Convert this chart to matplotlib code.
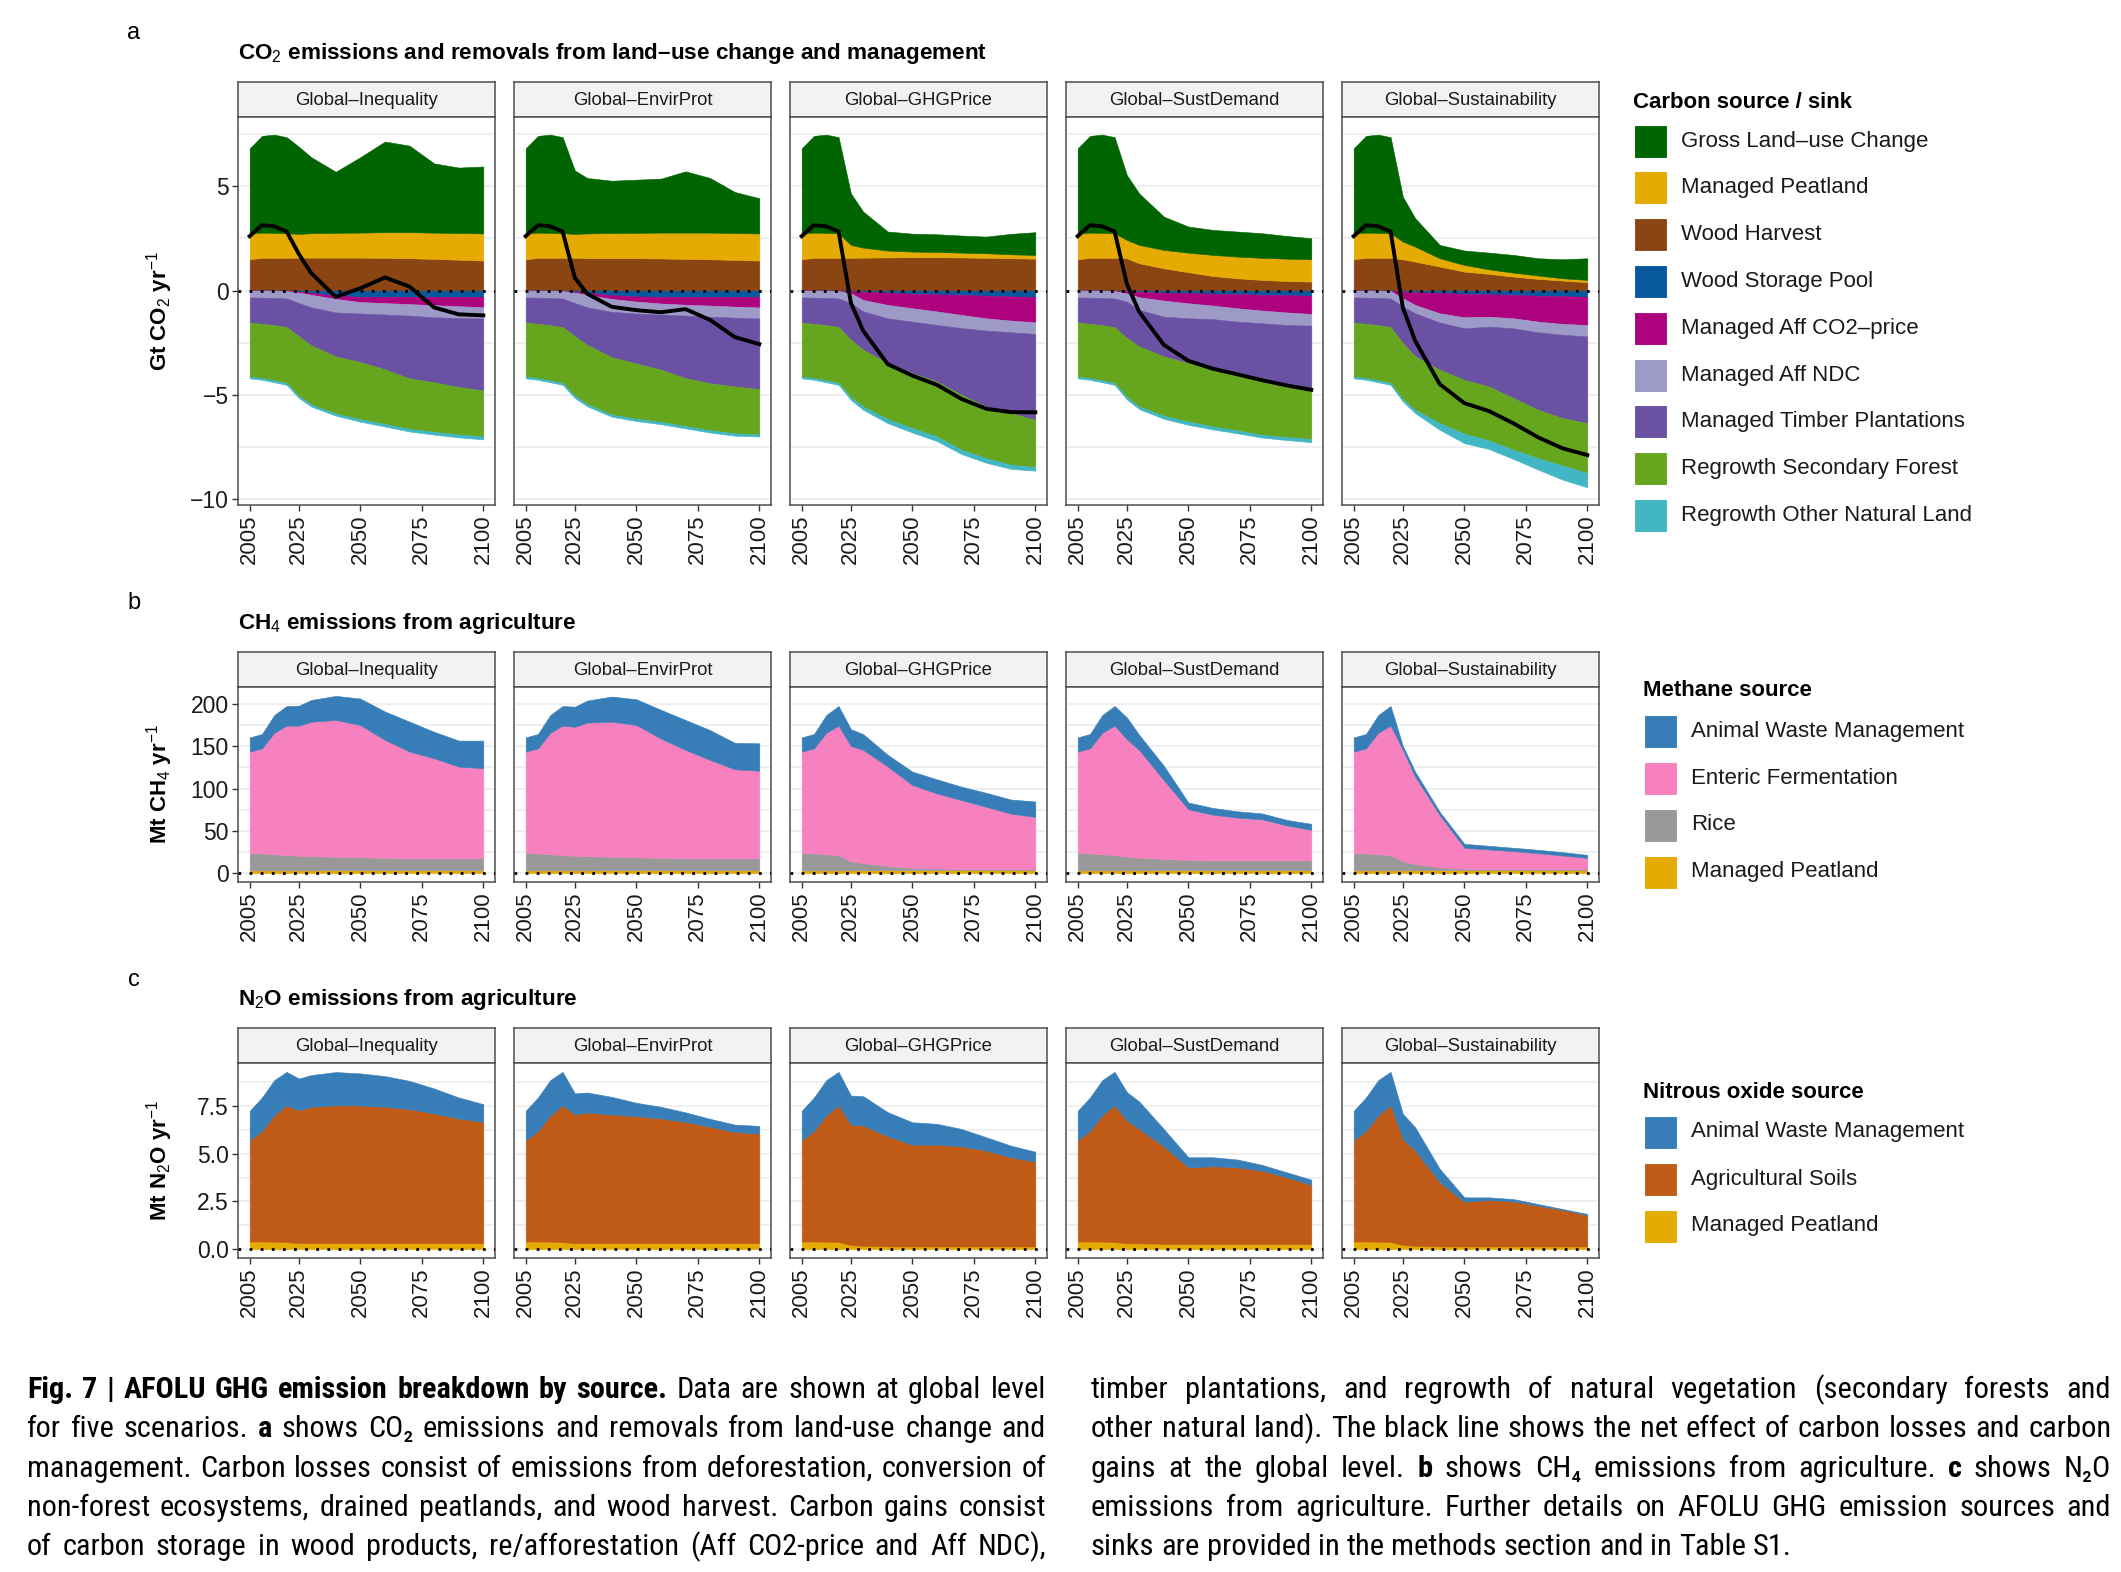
# AFOLU GHG emission breakdown by source (five global scenarios)
import numpy as np
import matplotlib
matplotlib.use("Agg")
import matplotlib.pyplot as plt
from matplotlib.patches import Rectangle
from matplotlib import font_manager

years = [2005, 2010, 2015, 2020, 2025, 2030, 2040, 2050, 2060, 2070, 2080, 2090, 2100]
scenarios = ["Global–Inequality", "Global–EnvirProt", "Global–GHGPrice",
             "Global–SustDemand", "Global–Sustainability"]
x_ticks = [2005, 2025, 2050, 2075, 2100]

# ---- a: CO2 (Gt CO2/yr), order of values follows scenarios ----
gross_luc = [
    [4.07, 4.64, 4.71, 4.61, 4.18, 3.65, 2.93, 3.62, 4.35, 4.15, 3.32, 3.14, 3.21],
    [4.07, 4.64, 4.71, 4.61, 3.04, 2.66, 2.51, 2.55, 2.59, 2.94, 2.62, 1.97, 1.69],
    [4.07, 4.64, 4.71, 4.61, 2.47, 1.73, 0.91, 0.86, 0.85, 0.82, 0.80, 0.98, 1.09],
    [4.07, 4.64, 4.71, 4.61, 3.11, 2.47, 1.60, 1.25, 1.20, 1.20, 1.18, 1.09, 1.01],
    [4.07, 4.64, 4.71, 4.61, 2.15, 1.36, 0.64, 0.69, 0.80, 0.85, 0.83, 0.91, 1.04],
]
peat_co2 = [
    [1.25, 1.21, 1.20, 1.18, 1.14, 1.17, 1.19, 1.20, 1.23, 1.25, 1.26, 1.28, 1.30],
    [1.25, 1.21, 1.20, 1.18, 1.15, 1.18, 1.20, 1.22, 1.24, 1.26, 1.28, 1.29, 1.30],
    [1.25, 1.21, 1.20, 1.18, 0.62, 0.48, 0.33, 0.27, 0.25, 0.23, 0.22, 0.19, 0.18],
    [1.25, 1.21, 1.20, 1.18, 0.88, 0.88, 0.88, 0.94, 1.01, 1.04, 1.06, 1.07, 1.07],
    [1.25, 1.21, 1.20, 1.18, 0.85, 0.72, 0.40, 0.32, 0.22, 0.19, 0.16, 0.11, 0.11],
]
wood_harvest = [
    [1.50, 1.57, 1.57, 1.57, 1.58, 1.58, 1.58, 1.58, 1.57, 1.55, 1.52, 1.48, 1.44],
    [1.50, 1.57, 1.57, 1.57, 1.57, 1.56, 1.56, 1.55, 1.54, 1.52, 1.50, 1.47, 1.44],
    [1.50, 1.57, 1.57, 1.57, 1.57, 1.58, 1.59, 1.60, 1.60, 1.59, 1.57, 1.55, 1.53],
    [1.50, 1.57, 1.57, 1.57, 1.55, 1.31, 1.07, 0.88, 0.70, 0.59, 0.51, 0.46, 0.43],
    [1.50, 1.57, 1.57, 1.57, 1.50, 1.39, 1.15, 0.91, 0.80, 0.67, 0.56, 0.48, 0.40],
]
wood_storage = [
    [0, 0, 0, -0.02, -0.05, -0.10, -0.25, -0.30, -0.30, -0.30, -0.30, -0.30, -0.30],
    [0, 0, 0, -0.02, -0.05, -0.10, -0.22, -0.28, -0.30, -0.30, -0.30, -0.30, -0.30],
    [0, 0, 0, -0.02, -0.03, -0.05, -0.10, -0.15, -0.18, -0.20, -0.25, -0.28, -0.30],
    [0, 0, 0, -0.02, -0.03, -0.05, -0.10, -0.12, -0.15, -0.17, -0.20, -0.22, -0.25],
    [0, 0, 0, -0.02, -0.05, -0.08, -0.12, -0.15, -0.18, -0.20, -0.25, -0.27, -0.30],
]
aff_co2price = [
    [0, 0, 0, 0, -0.05, -0.10, -0.15, -0.25, -0.30, -0.35, -0.40, -0.45, -0.50],
    [0, 0, 0, 0, -0.05, -0.10, -0.18, -0.25, -0.32, -0.38, -0.42, -0.47, -0.51],
    [0, 0, 0, 0, -0.10, -0.40, -0.59, -0.70, -0.82, -0.97, -1.08, -1.16, -1.22],
    [0, 0, 0, 0, -0.10, -0.27, -0.38, -0.49, -0.57, -0.68, -0.76, -0.83, -0.87],
    [0, 0, 0, 0, -0.32, -0.61, -0.97, -1.13, -1.07, -1.13, -1.24, -1.33, -1.35],
]
aff_ndc = [
    [-0.33, -0.34, -0.35, -0.36, -0.50, -0.60, -0.65, -0.55, -0.55, -0.55, -0.58, -0.57, -0.54],
    [-0.33, -0.34, -0.35, -0.36, -0.50, -0.60, -0.62, -0.57, -0.53, -0.52, -0.53, -0.53, -0.53],
    [-0.33, -0.34, -0.35, -0.36, -0.47, -0.55, -0.64, -0.64, -0.65, -0.63, -0.59, -0.56, -0.56],
    [-0.33, -0.34, -0.35, -0.36, -0.40, -0.61, -0.77, -0.72, -0.65, -0.64, -0.61, -0.60, -0.56],
    [-0.33, -0.34, -0.35, -0.36, -0.40, -0.40, -0.44, -0.53, -0.48, -0.48, -0.51, -0.52, -0.55],
]
timber = [
    [-1.20, -1.26, -1.31, -1.37, -1.59, -1.83, -2.11, -2.33, -2.63, -3.02, -3.12, -3.31, -3.45],
    [-1.20, -1.26, -1.31, -1.37, -1.60, -1.80, -2.18, -2.40, -2.65, -3.00, -3.20, -3.30, -3.38],
    [-1.20, -1.26, -1.31, -1.37, -1.76, -1.84, -2.15, -2.47, -2.71, -3.20, -3.64, -3.88, -4.12],
    [-1.20, -1.26, -1.31, -1.37, -1.75, -1.75, -1.91, -2.15, -2.35, -2.47, -2.63, -2.87, -3.16],
    [-1.20, -1.26, -1.31, -1.37, -1.75, -2.07, -2.27, -2.47, -2.87, -3.35, -3.72, -4.00, -4.16],
]
regrowth_sec = [
    [-2.60, -2.60, -2.65, -2.68, -2.86, -2.83, -2.74, -2.74, -2.62, -2.42, -2.38, -2.27, -2.21],
    [-2.60, -2.60, -2.65, -2.68, -2.85, -2.85, -2.75, -2.65, -2.50, -2.30, -2.25, -2.25, -2.18],
    [-2.60, -2.60, -2.65, -2.68, -2.75, -2.72, -2.69, -2.64, -2.64, -2.64, -2.48, -2.47, -2.27],
    [-2.60, -2.60, -2.65, -2.68, -2.83, -2.88, -2.85, -2.80, -2.80, -2.75, -2.72, -2.51, -2.28],
    [-2.60, -2.60, -2.65, -2.68, -2.69, -2.56, -2.56, -2.59, -2.59, -2.48, -2.32, -2.28, -2.39],
]
regrowth_other = [
    [-0.08, -0.08, -0.09, -0.09, -0.10, -0.10, -0.10, -0.12, -0.12, -0.12, -0.13, -0.14, -0.14],
    [-0.08, -0.08, -0.09, -0.09, -0.10, -0.10, -0.10, -0.11, -0.11, -0.11, -0.11, -0.11, -0.10],
    [-0.08, -0.08, -0.09, -0.09, -0.13, -0.16, -0.19, -0.21, -0.22, -0.20, -0.22, -0.20, -0.17],
    [-0.08, -0.08, -0.09, -0.09, -0.11, -0.12, -0.14, -0.16, -0.14, -0.14, -0.13, -0.14, -0.15],
    [-0.08, -0.08, -0.09, -0.09, -0.11, -0.16, -0.32, -0.45, -0.41, -0.44, -0.55, -0.67, -0.69],
]

# ---- b: CH4 (Mt CH4/yr) ----
ch4_awm = [
    [16.9, 17.0, 21.0, 23.2, 23.6, 25.7, 28.5, 31.3, 33.6, 35.4, 31.3, 30.8, 32.7],
    [16.9, 17.0, 21.0, 23.2, 23.8, 26.0, 29.7, 30.5, 34.0, 35.4, 35.3, 31.3, 32.4],
    [16.9, 17.0, 21.0, 23.2, 19.8, 18.7, 13.9, 15.8, 16.7, 15.9, 16.6, 16.7, 18.2],
    [16.9, 17.0, 21.0, 23.2, 25.8, 18.0, 17.0, 8.0, 8.0, 7.5, 7.0, 6.5, 7.0],
    [16.9, 17.0, 21.0, 23.2, 4.8, 5.9, 3.9, 4.7, 4.3, 4.0, 4.0, 4.0, 3.5],
]
ch4_enteric = [
    [119.6, 124.2, 143.7, 153.1, 153.8, 159.0, 161.7, 156.5, 139.4, 126.2, 118.3, 108.4, 106.5],
    [119.6, 124.2, 143.7, 153.1, 152.4, 158.0, 159.7, 156.5, 141.0, 128.2, 116.3, 105.3, 103.6],
    [119.6, 124.2, 143.7, 153.1, 136.5, 133.7, 117.5, 98.0, 88.8, 81.3, 73.6, 65.8, 61.9],
    [119.6, 124.2, 143.7, 153.1, 138.9, 127.3, 93.2, 59.9, 54.0, 50.5, 48.5, 41.3, 36.2],
    [119.6, 124.2, 143.7, 153.1, 131.7, 103.2, 61.6, 25.0, 23.4, 21.4, 19.0, 16.2, 13.5],
]
ch4_rice = [
    [20.8, 20.1, 19.1, 18.1, 17.4, 16.8, 16.1, 15.3, 14.8, 14.2, 14.2, 14.2, 14.2],
    [20.8, 20.1, 19.1, 18.1, 17.4, 16.8, 16.1, 15.3, 14.8, 14.2, 14.2, 14.2, 14.2],
    [20.8, 20.1, 19.1, 18.1, 10.7, 8.7, 5.1, 2.8, 2.0, 1.6, 1.4, 1.2, 1.2],
    [20.8, 20.1, 19.1, 18.1, 16.2, 15.1, 13.5, 12.3, 11.8, 11.8, 11.8, 11.8, 11.8],
    [20.8, 20.1, 19.1, 18.1, 10.7, 7.5, 3.5, 1.6, 1.2, 1.2, 1.2, 1.2, 1.2],
]
ch4_peat = [
    [3.2, 3.2, 3.2, 3.2, 3.2, 3.2, 3.3, 3.3, 3.3, 3.3, 3.3, 3.3, 3.3],
    [3.2, 3.2, 3.2, 3.2, 3.2, 3.2, 3.3, 3.3, 3.3, 3.3, 3.3, 3.3, 3.3],
    [3.2, 3.2, 3.2, 3.2, 3.2, 3.3, 3.4, 3.4, 3.4, 3.4, 3.4, 3.4, 3.4],
    [3.2, 3.2, 3.2, 3.2, 3.2, 3.2, 3.3, 3.3, 3.3, 3.3, 3.3, 3.3, 3.3],
    [3.2, 3.2, 3.2, 3.2, 3.2, 3.3, 3.4, 3.4, 3.4, 3.4, 3.4, 3.4, 3.4],
]

# ---- c: N2O (Mt N2O/yr) ----
n2o_awm = [
    [1.54, 1.75, 1.84, 1.75, 1.66, 1.66, 1.74, 1.68, 1.61, 1.48, 1.31, 1.10, 0.93],
    [1.54, 1.75, 1.84, 1.75, 1.09, 1.05, 0.92, 0.70, 0.61, 0.50, 0.42, 0.38, 0.40],
    [1.54, 1.75, 1.84, 1.75, 1.52, 1.54, 1.26, 1.17, 1.09, 0.91, 0.70, 0.61, 0.52],
    [1.54, 1.75, 1.84, 1.75, 1.49, 1.44, 0.91, 0.53, 0.47, 0.41, 0.30, 0.26, 0.27],
    [1.54, 1.75, 1.84, 1.75, 1.31, 1.22, 0.70, 0.23, 0.14, 0.12, 0.09, 0.04, 0.06],
]
n2o_soils = [
    [5.30, 5.79, 6.62, 7.16, 6.96, 7.14, 7.22, 7.21, 7.14, 7.02, 6.79, 6.53, 6.35],
    [5.30, 5.79, 6.62, 7.16, 6.75, 6.84, 6.74, 6.65, 6.53, 6.35, 6.09, 5.83, 5.74],
    [5.30, 5.79, 6.62, 7.16, 6.31, 6.30, 5.77, 5.33, 5.33, 5.24, 5.02, 4.67, 4.44],
    [5.30, 5.79, 6.62, 7.16, 6.42, 5.99, 5.10, 4.02, 4.08, 4.02, 3.85, 3.50, 3.11],
    [5.30, 5.79, 6.62, 7.16, 5.56, 4.99, 3.36, 2.34, 2.43, 2.36, 2.13, 1.92, 1.64],
]
n2o_peat = [
    [0.40, 0.40, 0.39, 0.37, 0.31, 0.31, 0.31, 0.31, 0.31, 0.31, 0.31, 0.31, 0.31],
    [0.40, 0.40, 0.39, 0.37, 0.31, 0.31, 0.31, 0.31, 0.31, 0.31, 0.31, 0.31, 0.31],
    [0.40, 0.40, 0.39, 0.37, 0.21, 0.17, 0.14, 0.14, 0.14, 0.14, 0.14, 0.14, 0.14],
    [0.40, 0.40, 0.39, 0.37, 0.31, 0.30, 0.28, 0.26, 0.26, 0.26, 0.26, 0.26, 0.26],
    [0.40, 0.40, 0.39, 0.37, 0.21, 0.17, 0.14, 0.14, 0.14, 0.14, 0.14, 0.14, 0.14],
]

co2_labels = ["Gross Land–use Change", "Managed Peatland", "Wood Harvest", "Wood Storage Pool",
              "Managed Aff CO2–price", "Managed Aff NDC", "Managed Timber Plantations",
              "Regrowth Secondary Forest", "Regrowth Other Natural Land"]
co2_colors = ["#006400", "#E6AB02", "#8B4513", "#08589E", "#AE017E",
              "#9E9AC8", "#6A51A3", "#66A61E", "#41B6C4"]
ch4_labels = ["Animal Waste Management", "Enteric Fermentation", "Rice", "Managed Peatland"]
ch4_colors = ["#377EB8", "#F781BF", "#999999", "#E6AB02"]
n2o_labels = ["Animal Waste Management", "Agricultural Soils", "Managed Peatland"]
n2o_colors = ["#377EB8", "#BF5B17", "#E6AB02"]

# ---------------------------------------------------------------
W, H = 2121, 1572
plt.rcParams["font.family"] = ["Liberation Sans", "DejaVu Sans"]
plt.rcParams["mathtext.fontset"] = "custom"
plt.rcParams["mathtext.rm"] = "Liberation Sans"
plt.rcParams["mathtext.it"] = "Liberation Sans:italic"
plt.rcParams["mathtext.bf"] = "Liberation Sans:bold"

fig = plt.figure(figsize=(W / 100, H / 100), dpi=100)
fig.patch.set_facecolor("white")

TXT = "#1A1A1A"
FACET_X0, FACET_STEP, FACET_W, STRIP_H = 238, 276, 257, 35


def px_axes(x, y, w, h):
    return fig.add_axes([x / W, 1 - (y + h) / H, w / W, h / H])


def fx(x):
    return x / W


def fy(y):
    return 1 - y / H


def stacks(pos_layers, neg_layers):
    """cumulative boundaries for positive (bottom->top) and negative (0->down) layers"""
    out = []
    base = np.zeros(len(years))
    for vals, col in pos_layers:
        top = base + np.array(vals, float)
        out.append((base, top, col))
        base = top
    base = np.zeros(len(years))
    for vals, col in neg_layers:
        bot = base + np.array(vals, float)
        out.append((bot, base, col))
        base = bot
    return out


def draw_row(top, plot_h, layers_per_scen, yticks, yticklabels, yminor, net=None):
    allv = np.concatenate([np.concatenate([lo, hi]) for L in layers_per_scen for lo, hi, _ in L])
    lo_, hi_ = allv.min(), allv.max()
    pad = 0.05 * (hi_ - lo_)
    ylim = (lo_ - pad, hi_ + pad)
    for k, scen in enumerate(scenarios):
        x0 = FACET_X0 + k * FACET_STEP
        strip = px_axes(x0, top, FACET_W, STRIP_H)
        strip.set_facecolor("#F2F2F2")
        strip.set_xticks([])
        strip.set_yticks([])
        for s in strip.spines.values():
            s.set_color("#4D4D4D")
            s.set_linewidth(1.1)
        strip.text(0.5, 0.47, scen, ha="center", va="center", fontsize=13.3, color=TXT,
                   transform=strip.transAxes)

        ax = px_axes(x0, top + STRIP_H, FACET_W, plot_h)
        for lo, hi, col in layers_per_scen[k]:
            ax.fill_between(years, lo, hi, color=col, lw=0.4, edgecolor=col, zorder=2)
        ax.axhline(0, color="black", lw=2.0, ls=(0, (1, 3)), zorder=3)
        if net is not None:
            ax.plot(years, net[k], color="black", lw=2.8, zorder=4, solid_joinstyle="round")
        span = years[-1] - years[0]
        ax.set_xlim(years[0] - 0.05 * span, years[-1] + 0.05 * span)
        ax.set_ylim(*ylim)
        ax.set_xticks(x_ticks)
        ax.set_xticklabels([str(t) for t in x_ticks], rotation=90, fontsize=16, color=TXT)
        ax.set_yticks(yticks)
        ax.set_yticks(yminor, minor=True)
        ax.grid(axis="y", which="both", color="#EBEBEB", lw=1.1, zorder=0)
        ax.set_axisbelow(True)
        ax.tick_params(axis="both", which="major", length=4.5, width=1, color="#333333", pad=2)
        ax.tick_params(axis="y", which="minor", length=0)
        if k == 0:
            ax.set_yticklabels(yticklabels, fontsize=16.5, color=TXT)
        else:
            ax.tick_params(axis="y", left=False, labelleft=False)
        for s in ax.spines.values():
            s.set_color("#4D4D4D")
            s.set_linewidth(1.1)


def draw_legend(x, title_y, first_y, step, title, labels, colors):
    fig.text(fx(x), fy(title_y), title, fontsize=16, fontweight="bold", color="black",
             ha="left", va="center")
    for i, (lab, col) in enumerate(zip(labels, colors)):
        yc = first_y + i * step
        fig.patches.append(Rectangle((fx(x + 1), fy(yc + 16.5)), 33 / W, 33 / H,
                                     transform=fig.transFigure, facecolor=col,
                                     edgecolor="white", lw=0.8))
        fig.text(fx(x + 48), fy(yc), lab, fontsize=16, color=TXT, ha="left", va="center")


# ---- panel a ----
co2_layers, co2_net = [], []
for k in range(len(scenarios)):
    pos = [(wood_harvest[k], co2_colors[2]), (peat_co2[k], co2_colors[1]), (gross_luc[k], co2_colors[0])]
    neg = [(wood_storage[k], co2_colors[3]), (aff_co2price[k], co2_colors[4]), (aff_ndc[k], co2_colors[5]),
           (timber[k], co2_colors[6]), (regrowth_sec[k], co2_colors[7]), (regrowth_other[k], co2_colors[8])]
    co2_layers.append(stacks(pos, neg))
    co2_net.append(np.sum([np.array(v, float) for v, _ in pos + neg], axis=0))

draw_row(82, 388, co2_layers, [-10, -5, 0, 5], ["−10", "−5", "0", "5"], [-7.5, -2.5, 2.5, 7.5], co2_net)

# ---- panel b ----
ch4_layers = [stacks([(ch4_peat[k], ch4_colors[3]), (ch4_rice[k], ch4_colors[2]),
                      (ch4_enteric[k], ch4_colors[1]), (ch4_awm[k], ch4_colors[0])], [])
              for k in range(len(scenarios))]
draw_row(652, 195, ch4_layers, [0, 50, 100, 150, 200], ["0", "50", "100", "150", "200"],
         [25, 75, 125, 175])

# ---- panel c ----
n2o_layers = [stacks([(n2o_peat[k], n2o_colors[2]), (n2o_soils[k], n2o_colors[1]),
                      (n2o_awm[k], n2o_colors[0])], [])
              for k in range(len(scenarios))]
draw_row(1028, 195, n2o_layers, [0, 2.5, 5, 7.5], ["0.0", "2.5", "5.0", "7.5"],
         [1.25, 3.75, 6.25, 8.75])

# ---- titles, letters, y labels ----
for letter, ly, title, ty in [("a", 33, r"CO$_2$ emissions and removals from land–use change and management", 54),
                              ("b", 603, r"CH$_4$ emissions from agriculture", 623),
                              ("c", 980, r"N$_2$O emissions from agriculture", 999)]:
    fig.text(fx(134), fy(ly), letter, fontsize=17, ha="center", va="center", color="black")
    fig.text(fx(238), fy(ty), title, fontsize=16.2, fontweight="bold", ha="left", va="center",
             color="black")

for lab, yc in [(r"Gt CO$_2$ yr$^{-1}$", 311), (r"Mt CH$_4$ yr$^{-1}$", 784),
                (r"Mt N$_2$O yr$^{-1}$", 1160)]:
    fig.text(fx(160), fy(yc), lab, fontsize=16, fontweight="bold", rotation=90,
             ha="center", va="center", color="black")

# ---- legends ----
draw_legend(1633, 102, 141, 46.8, "Carbon source / sink", co2_labels, co2_colors)
draw_legend(1643, 691, 731, 47, "Methane source", ch4_labels, ch4_colors)
draw_legend(1643, 1092, 1132, 47, "Nitrous oxide source", n2o_labels, n2o_colors)

# ---- caption font: a narrow sans that has both a regular and a bold face ----
variants = {}
for f in font_manager.fontManager.ttflist:
    w = f.weight if isinstance(f.weight, int) else font_manager.weight_dict.get(f.weight, 400)
    variants.setdefault((f.name, str(f.stretch)), set()).add(w)


def usable(key):
    ws = variants.get(key, set())
    return any(w <= 500 for w in ws) and any(w >= 600 for w in ws)


cap_font, cap_stretch = "Liberation Sans", "normal"
found = False
for name in ["Liberation Sans Narrow", "Noto Sans Condensed", "Roboto Condensed",
             "Open Sans Condensed", "Noto Sans", "Open Sans", "Roboto",
             "DejaVu Sans Condensed", "DejaVu Sans"]:
    narrow_name = "Narrow" in name or "Condensed" in name
    stretches = ["normal", "semi-condensed", "condensed"] if narrow_name else ["semi-condensed", "condensed"]
    for st in stretches:
        if usable((name, st)):
            cap_font, cap_stretch, found = name, st, True
            break
    if found:
        break
cap_family = [cap_font, "DejaVu Sans"]
cap_size = 22.0 if found else 17.5

left_col = [
    [("Fig. 7 | AFOLU GHG emission breakdown by source.", True), ("Data are shown at global level", False)],
    [("for five scenarios.", False), ("a", True), ("shows CO₂ emissions and removals from land-use change and", False)],
    [("management. Carbon losses consist of emissions from deforestation, conversion of", False)],
    [("non-forest ecosystems, drained peatlands, and wood harvest. Carbon gains consist", False)],
    [("of carbon storage in wood products, re/afforestation (Aff CO2-price and Aff NDC),", False)],
]
right_col = [
    [("timber plantations, and regrowth of natural vegetation (secondary forests and", False)],
    [("other natural land). The black line shows the net effect of carbon losses and carbon", False)],
    [("gains at the global level.", False), ("b", True), ("shows CH₄ emissions from agriculture.", False),
     ("c", True), ("shows N₂O", False)],
    [("emissions from agriculture. Further details on AFOLU GHG emission sources and", False)],
    [("sinks are provided in the methods section and in Table S1.", False)],
]

renderer = fig.canvas.get_renderer()


def caption_column(lines, x_left, x_right, y_first, step, last_justified):
    colw = x_right - x_left
    rows = []
    for line in lines:
        words = []
        for seg, bold in line:
            for w in seg.split(" "):
                words.append(fig.text(0, 0, w, fontsize=cap_size, family=cap_family,
                                      fontstretch=cap_stretch,
                                      fontweight="bold" if bold else "normal",
                                      color="black", ha="left", va="baseline"))
        rows.append(words)
    space = 0.23 * cap_size * 100 / 72
    widths = [[t.get_window_extent(renderer).width for t in r] for r in rows]
    natural = max(sum(w) + space * (len(w) - 1) for w in widths)
    scale = min(1.0, 0.985 * colw / natural)
    for i, (r, ws) in enumerate(zip(rows, widths)):
        ws = [w * scale for w in ws]
        if scale < 1:
            for t in r:
                t.set_fontsize(cap_size * scale)
        justify = last_justified or i < len(rows) - 1
        gap = (colw - sum(ws)) / (len(ws) - 1) if justify else space * scale
        x = x_left
        for t, w in zip(r, ws):
            t.set_position((fx(x), fy(y_first + i * step)))
            x += w + gap


caption_column(left_col, 27, 1046, 1398, 39.3, True)
caption_column(right_col, 1091, 2111, 1398, 39.3, False)

fig.savefig("out.png", dpi=100, facecolor="white")
